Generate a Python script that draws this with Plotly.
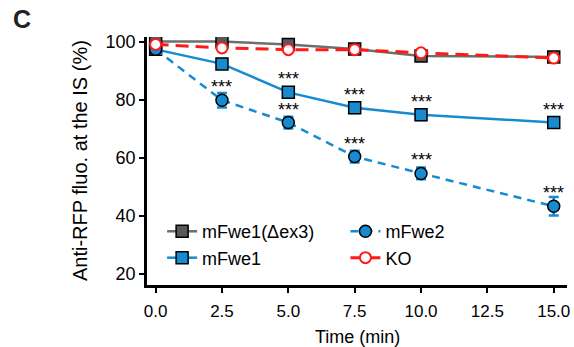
import plotly.graph_objects as go

time = [0.0, 2.5, 5.0, 7.5, 10.0, 15.0]
dex3 = [100.0, 100.0, 99.0, 97.4, 95.0, 94.7]
dex3_err = [0.5, 0.5, 0.5, 0.6, 0.6, 0.6]
ko = [99.0, 97.8, 97.2, 97.2, 96.1, 94.3]
ko_err = [0.5, 0.5, 0.5, 0.6, 0.6, 0.6]
fwe1 = [97.3, 92.3, 82.5, 77.2, 74.8, 72.1]
fwe1_err = [0.5, 1.0, 1.6, 1.8, 1.8, 1.6]
fwe2 = [97.3, 79.8, 72.1, 60.4, 54.6, 43.3]
fwe2_err = [0.5, 2.5, 2.0, 2.0, 2.0, 3.2]
fwe1_sig = ["", "", "***", "***", "***", "***"]
fwe2_sig = ["", "***", "***", "***", "***", "***"]
x_ticks = [0.0, 2.5, 5.0, 7.5, 10.0, 12.5, 15.0]
x_ticktext = ["0.0", "2.5", "5.0", "7.5", "10.0", "12.5", "15.0"]
y_ticks = [20, 40, 60, 80, 100]

BLUE = "#168bd0"
GRAY = "#6e6e6e"
RED = "#ff1a1a"
FONT = "Liberation Sans"

fig = go.Figure()
fig.add_trace(go.Scatter(
    x=time, y=dex3, name="mFwe1(\u0394ex3)", mode="lines+markers",
    line=dict(color=GRAY, width=2.5),
    marker=dict(symbol="square", size=12, color="#595959", line=dict(color="black", width=1.5)),
    error_y=dict(type="data", array=dex3_err, color=GRAY, thickness=2, width=4),
    legend="legend"))
fig.add_trace(go.Scatter(
    x=time, y=fwe1, name="mFwe1", mode="lines+markers",
    line=dict(color=BLUE, width=2.5),
    marker=dict(symbol="square", size=12, color=BLUE, line=dict(color="black", width=1.5)),
    error_y=dict(type="data", array=fwe1_err, color=BLUE, thickness=2.5, width=5),
    legend="legend"))
fig.add_trace(go.Scatter(
    x=time, y=fwe2, name="mFwe2", mode="lines+markers",
    line=dict(color=BLUE, width=2.5, dash="8px,6px"),
    marker=dict(symbol="circle", size=12, color=BLUE, line=dict(color="black", width=1.5)),
    error_y=dict(type="data", array=fwe2_err, color=BLUE, thickness=2.5, width=5),
    legend="legend2"))
fig.add_trace(go.Scatter(
    x=time, y=ko, name="KO", mode="lines+markers",
    line=dict(color=RED, width=3, dash="13px,7px"),
    marker=dict(symbol="circle", size=11, color="white", line=dict(color=RED, width=2)),
    error_y=dict(type="data", array=ko_err, color=RED, thickness=2, width=4),
    legend="legend2"))

annotations = []
for xs, ys, sig in [(time, fwe1, fwe1_sig), (time, fwe2, fwe2_sig)]:
    for xv, yv, s in zip(xs, ys, sig):
        if s:
            annotations.append(dict(x=xv, y=yv, xref="x", yref="y", text=s, showarrow=False,
                                    yanchor="middle", yshift=13,
                                    font=dict(size=18, color="black", family=FONT)))
annotations.append(dict(x=-0.1595, y=0.5, xref="paper", yref="paper", text="Anti-RFP fluo. at the IS (%)",
                        textangle=-90, showarrow=False, xanchor="center", yanchor="middle",
                        font=dict(size=20, color="black", family=FONT)))
annotations.append(dict(x=0.5, y=-0.21, xref="paper", yref="paper", text="Time (min)",
                        showarrow=False, xanchor="center", yanchor="middle",
                        font=dict(size=18, color="black", family=FONT)))
annotations.append(dict(x=(21 - 147) / 423, y=(285 - 19) / 248, xref="paper", yref="paper",
                        text="<b>C</b>", showarrow=False, xanchor="center", yanchor="middle",
                        font=dict(size=25, color="#222", family=FONT)))

fig.update_layout(
    width=574, height=347,
    margin=dict(l=147, r=4, t=37, b=62),
    paper_bgcolor="white", plot_bgcolor="white",
    font=dict(family=FONT, size=17, color="black"),
    showlegend=True,
    legend=dict(x=0.036, y=0.29, xanchor="left", yanchor="top", bgcolor="rgba(0,0,0,0)",
                font=dict(size=18), tracegroupgap=0, itemwidth=30),
    legend2=dict(x=0.4725, y=0.29, xanchor="left", yanchor="top", bgcolor="rgba(0,0,0,0)",
                 font=dict(size=18), tracegroupgap=0, itemwidth=30),
    annotations=annotations,
)
fig.update_xaxes(range=[-0.325, 15.5], tickvals=x_ticks, ticktext=x_ticktext,
                 showline=True, linecolor="black", linewidth=2.5, ticks="outside", ticklen=5,
                 tickwidth=2, tickcolor="black", showgrid=False, zeroline=False,
                 tickfont=dict(size=17), ticklabelstandoff=4)
fig.update_yaxes(range=[16.2, 101.55], tickvals=y_ticks,
                 showline=True, linecolor="black", linewidth=2.5, ticks="outside", ticklen=5,
                 tickwidth=2, tickcolor="black", showgrid=False, zeroline=False,
                 tickfont=dict(size=18))

fig.write_html("out.html", config={"displayModeBar": False},
               post_script="document.body.style.margin='0px';document.body.style.overflow='hidden';")
